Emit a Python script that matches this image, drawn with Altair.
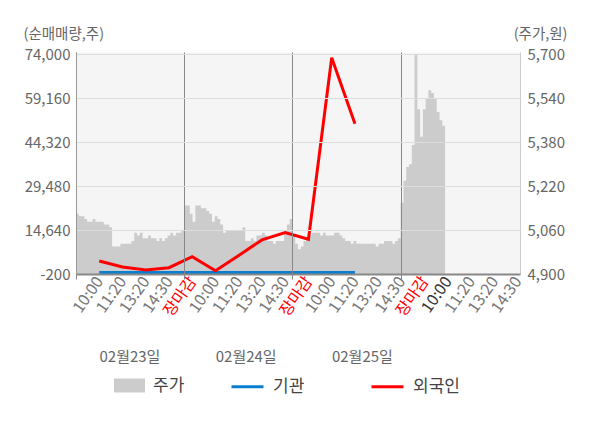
import json
import altair as alt
import pandas as pd

# ---------------- data ----------------
# price (주가) per 10-minute slot, 09:00-15:30 for each day (day 4 partial)
day1_price = [5120, 5110, 5110, 5100, 5090, 5090, 5100, 5090, 5090, 5090, 5080, 5080, 5070,
              5000, 5000, 5000, 5010, 5010, 5010, 5010, 5020, 5050, 5040, 5050, 5030, 5030,
              5040, 5030, 5030, 5020, 5030, 5020, 5030, 5040, 5050, 5040, 5050, 5050, 5060]
day2_price = [5150, 5150, 5120, 5090, 5150, 5150, 5140, 5140, 5130, 5120, 5090, 5110, 5100,
              5080, 5050, 5060, 5060, 5060, 5060, 5060, 5060, 5070, 5020, 5020, 5030, 5020,
              5040, 5040, 5050, 5040, 5020, 5020, 5010, 5020, 5020, 5020, 5060, 5080, 5100]
day3_price = [5040, 5010, 4990, 5000, 5020, 5030, 5040, 5050, 5050, 5050, 5040, 5050, 5040,
              5040, 5040, 5050, 5050, 5040, 5030, 5020, 5020, 5010, 5020, 5010, 5010, 5010,
              5010, 5010, 5010, 5010, 5000, 5010, 5010, 5020, 5020, 5020, 5010, 5020, 5030]
day4_price = [5160, 5240, 5290, 5300, 5370, 5700, 5500, 5400, 5500, 5540, 5570, 5560, 5540,
              5490, 5460, 5440, 5440]

# net buying (순매매량) at the x-axis categories 1..12
foreign_net = [4200, 2170, 1150, 1930, 5660, 920, 6070, 11320, 13790, 11560, 72880, 50620]
inst_net = [300, 300, 300, 300, 300, 300, 300, 300, 300, 300, 300, 300]

x_labels = ["10:00", "11:20", "13:20", "14:30", "장마감",
            "10:00", "11:20", "13:20", "14:30", "장마감",
            "10:00", "11:20", "13:20", "14:30", "장마감",
            "10:00", "11:20", "13:20", "14:30"]
date_labels = ["02월23일", "02월24일", "02월25일"]
left_ticks = [-200, 14640, 29480, 44320, 59160, 74000]
right_ticks = [4900, 5060, 5220, 5380, 5540, 5700]

# ---------------- tables ----------------
rows = []
for d, arr in enumerate([day1_price, day2_price, day3_price, day4_price]):
    for s, p in enumerate(arr):
        rows.append({"t": d * 390 + s * 10, "price": p, "series": "주가"})
area_df = pd.DataFrame(rows)
red_df = pd.DataFrame({"idx": list(range(1, len(foreign_net) + 1)), "v": foreign_net,
                       "series": "외국인"})
blue_df = pd.DataFrame({"idx": list(range(1, len(inst_net) + 1)), "v": inst_net,
                        "series": "기관"})

FONT = "Noto Sans CJK KR"
GRAY = "#666666"

label_js = json.dumps(x_labels, ensure_ascii=False)
date_js = json.dumps(date_labels, ensure_ascii=False)

yl_scale = alt.Scale(domain=[-200, 74845], nice=False, zero=False)
idx_scale = alt.Scale(domain=[0, 19.1], nice=False, zero=False)

stroke_scale = alt.Scale(domain=["기관", "외국인"], range=["#0a7fd0", "#ff0000"])
stroke_legend = alt.Legend(orient="none", legendX=154, legendY=317,
                           direction="horizontal", title=None,
                           symbolType="stroke", symbolSize=1024,
                           symbolStrokeWidth=3, labelFontSize=17,
                           labelColor="#444444", labelFont=FONT,
                           labelOffset=8, columnPadding=60)

area = alt.Chart(area_df).mark_area(interpolate="step-after", opacity=1, clip=True).encode(
    x=alt.X("t:Q", scale=alt.Scale(domain=[0, 1600], nice=False, zero=False),
            axis=alt.Axis(orient="bottom", values=[0, 390, 780, 1170], labels=False,
                          ticks=True, tickSize=5, tickColor="#888888", grid=True,
                          gridColor="#888888", gridWidth=1, domain=True,
                          domainColor="#888888", domainWidth=2, title=None, zindex=1)),
    y=alt.Y("price:Q", scale=alt.Scale(domain=[4900, 5709], nice=False, zero=False),
            axis=alt.Axis(orient="right", values=right_ticks, format=",d", grid=False,
                          ticks=False, domainColor="#cccccc", labelPadding=7,
                          labelFontSize=15, labelColor=GRAY, labelFont=FONT,
                          title="(주가,원)", titleAngle=0, titleAlign="right",
                          titleBaseline="middle", titleX=47, titleY=-18,
                          titleFontSize=14.5, titleFontWeight="normal",
                          titleColor=GRAY, titleFont=FONT)),
    y2=alt.datum(4900),
    fill=alt.Fill("series:N", scale=alt.Scale(domain=["주가"], range=["#cccccc"]),
                  legend=alt.Legend(orient="none", legendX=38, legendY=318,
                                    title=None, symbolType="M-1,-0.45L1,-0.45L1,0.45L-1,0.45Z",
                                    symbolSize=961, symbolOpacity=1, symbolStrokeWidth=0,
                                    labelFontSize=17, labelColor="#444444",
                                    labelFont=FONT, labelOffset=8)),
)

red = alt.Chart(red_df).mark_line(strokeWidth=3, clip=True).encode(
    x=alt.X("idx:Q", scale=idx_scale,
            axis=alt.Axis(orient="bottom", values=list(range(1, 20)),
                          labelExpr=f"{label_js}[datum.value - 1]", labelAngle=-55,
                          labelFontSize=16, labelFont=FONT, labelPadding=4,
                          labelColor={"condition": [
                              {"test": "datum.value % 5 == 0", "value": "#ff0000"},
                              {"test": "datum.value == 16", "value": "#333333"}],
                              "value": "#777777"},
                          ticks=False, domain=False, grid=False, title=None,
                          labelOverlap=False)),
    y=alt.Y("v:Q", scale=yl_scale,
            axis=alt.Axis(orient="left", values=left_ticks,
                          labelExpr="replace(format(datum.value, ','), '\u2212', '-')",
                          grid=True, gridColor="#dddddd", gridWidth=1, ticks=False,
                          domainColor="#999999", labelPadding=6, labelFontSize=15,
                          labelColor=GRAY, labelFont=FONT, zindex=1,
                          title="(순매매량,주)", titleAngle=0, titleAlign="left",
                          titleBaseline="middle", titleX=-53, titleY=-18,
                          titleFontSize=14.5, titleFontWeight="normal",
                          titleColor=GRAY, titleFont=FONT)),
    stroke=alt.Stroke("series:N", scale=stroke_scale, legend=stroke_legend),
)

blue = alt.Chart(blue_df).mark_line(strokeWidth=3, clip=True).encode(
    x=alt.X("idx:Q", scale=idx_scale,
            axis=alt.Axis(orient="bottom", values=[2.3, 7.3, 12.3],
                          labelExpr=f"{date_js}[floor(datum.value / 5)]", labelAngle=0,
                          labelFontSize=15, labelFont=FONT, labelColor=GRAY,
                          offset=72, labelPadding=3, ticks=False, domain=False,
                          grid=False, title=None)),
    y=alt.Y("v:Q", scale=yl_scale, axis=None),
    stroke=alt.Stroke("series:N", scale=stroke_scale, legend=stroke_legend),
)

chart = alt.layer(area, blue, red).resolve_scale(
    x="independent", y="independent"
).properties(
    width=444, height=222,
    autosize=alt.AutoSizeParams(type="none"),
    padding={"left": 68, "top": 44, "right": 64, "bottom": 140},
    background="white",
).configure_view(fill="#f5f5f5", stroke="transparent")

chart.save("out.html", embed_options={"renderer": "svg", "actions": False})
